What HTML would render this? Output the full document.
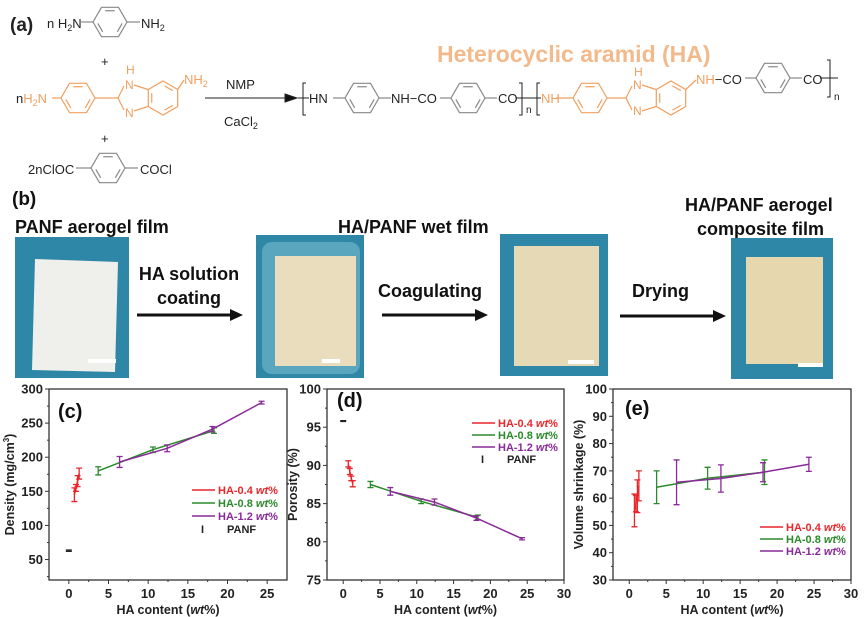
<!DOCTYPE html>
<html><head><meta charset="utf-8"><style>
body{margin:0;background:#fff;}
svg{display:block;font-family:"Liberation Sans",Arial,sans-serif;}
.b{font-weight:bold}
</style></head><body>
<svg id="fig" width="867" height="617" viewBox="0 0 867 617" xmlns="http://www.w3.org/2000/svg">
<!-- (a) chemistry scheme -->
<g font-size="13" fill="#222">
  <text x="10" y="31" font-size="19" class="b">(a)</text>
  <text x="47" y="28">n H<tspan font-size="9" dy="3">2</tspan><tspan dy="-3">N</tspan></text>
  <text x="141" y="28">NH<tspan font-size="9" dy="3">2</tspan></text>
  <text x="101" y="66">+</text>
  <text x="16" y="103">n<tspan fill="#f0a060">H<tspan font-size="9" dy="3">2</tspan><tspan dy="-3">N</tspan></tspan></text>
  <g fill="#f0a060">
    <text x="126" y="74" font-size="12">H</text>
    <text x="125" y="89" font-size="12">N</text>
    <text x="125" y="117" font-size="12">N</text>
    <text x="184" y="84">NH<tspan font-size="9" dy="3">2</tspan></text>
  </g>
  <text x="226" y="89">NMP</text>
  <text x="224" y="126">CaCl<tspan font-size="9" dy="3">2</tspan></text>
  <text x="101" y="143">+</text>
  <text x="28" y="174">2nClOC</text>
  <text x="140" y="174">COCl</text>
  <text x="309" y="103">HN</text>
  <text x="391" y="103">NH−CO</text>
  <text x="498" y="103">CO</text>
  <text x="526" y="113" font-size="10">n</text>
  <text x="541" y="103" fill="#f0a060">NH</text>
  <g fill="#f0a060"><text x="634" y="76" font-size="12">H</text><text x="633" y="89" font-size="12">N</text><text x="633" y="115" font-size="12">N</text></g>
  <text x="696" y="84"><tspan fill="#f0a060">NH</tspan>−CO</text>
  <text x="803" y="84">CO</text>
  <text x="834" y="100" font-size="10">n</text>
  <text x="437" y="62" font-size="23" class="b" fill="#f3b98a">Heterocyclic aramid (HA)</text>
  <g stroke="#222" fill="none" stroke-width="1">
    <line x1="205" y1="98" x2="285" y2="98"/>
    <polygon points="285,94 297,98 285,102" fill="#111"/>
    <path d="M306,83 h-3 v32 h3"/><line x1="298" y1="98" x2="309" y2="98"/>
    <path d="M519,83 h3 v32 h-3"/><path d="M540,83 h-3 v32 h3"/><line x1="516" y1="98" x2="541" y2="98"/>
    <path d="M827,60 h3 v37 h-3"/><line x1="820" y1="78" x2="838" y2="78"/>
  </g>
  <g id="rings" stroke="#888" fill="none" stroke-width="1.2"></g>
  <g id="rings-o" stroke="#f0a060" fill="none" stroke-width="1.2"></g>
</g>
<!-- (b) process photos -->
<g font-weight="bold" fill="#111">
  <text x="12" y="205" font-size="19">(b)</text>
  <text x="15" y="233" font-size="18">PANF aerogel film</text>
  <text x="338" y="233" font-size="18">HA/PANF wet film</text>
  <text x="685" y="211" font-size="18">HA/PANF aerogel</text>
  <text x="697" y="235" font-size="18">composite film</text>
  <text x="189" y="280" font-size="18" text-anchor="middle">HA solution</text>
  <text x="189" y="304" font-size="18" text-anchor="middle">coating</text>
  <text x="378" y="297" font-size="18">Coagulating</text>
  <text x="632" y="297" font-size="18">Drying</text>
  <g stroke="#111" stroke-width="3"><line x1="137" y1="315" x2="232" y2="315"/><line x1="382" y1="315" x2="477" y2="315"/><line x1="620" y1="316" x2="715" y2="316"/></g>
  <polygon points="230,309 243,315 230,321"/><polygon points="475,309 488,315 475,321"/><polygon points="713,310 726,316 713,322"/>
  <rect x="15" y="237" width="114" height="141" fill="#2f87a8"/>
  <polygon points="35,259 118,262 115,372 32,370" fill="#efefeb"/>
  <rect x="88" y="359" width="28" height="4" fill="#fff"/>
  <rect x="256" y="235" width="108" height="143" fill="#2f87a8"/>
  <rect x="262" y="242" width="98" height="132" rx="10" fill="#5aa6bf"/>
  <rect x="275" y="256" width="81" height="110" fill="#e9ddbd"/>
  <rect x="322" y="359" width="18" height="4" fill="#fff"/>
  <rect x="500" y="234" width="108" height="142" fill="#2f87a8"/>
  <rect x="514" y="246" width="85" height="120" fill="#e6dab6"/>
  <rect x="568" y="360" width="26" height="4" fill="#fff"/>
  <rect x="731" y="238" width="102" height="141" fill="#2f87a8"/>
  <rect x="746" y="257" width="77" height="107" fill="#e6d7ae"/>
  <rect x="798" y="363" width="25" height="4" fill="#fff"/>
</g>
<g id="charts"></g>
</svg>
<script>
var SV='http://www.w3.org/2000/svg';
function hex(g,cx,cy,r,rot){rot=rot||0;var p=[];for(var i=0;i<6;i++){var a=Math.PI/3*i+rot;p.push((cx+r*Math.cos(a)).toFixed(1)+','+(cy+r*Math.sin(a)).toFixed(1));}
 var e=document.createElementNS(SV,'polygon');e.setAttribute('points',p.join(' '));g.appendChild(e);
 var ri=r*0.72;[0,2,4].forEach(function(k){var a1=Math.PI/3*k+rot+0.12,a2=Math.PI/3*(k+1)+rot-0.12;ln(g,cx+ri*Math.cos(a1),cy+ri*Math.sin(a1),cx+ri*Math.cos(a2),cy+ri*Math.sin(a2));});}
function ln(g,a,b,c,d){var e=document.createElementNS(SV,'line');e.setAttribute('x1',a);e.setAttribute('y1',b);e.setAttribute('x2',c);e.setAttribute('y2',d);g.appendChild(e);}
var rg=document.getElementById('rings'),ro=document.getElementById('rings-o');
hex(rg,110,22,17);ln(rg,80,22,93,22);ln(rg,127,22,140,22);
hex(rg,108,168,17);ln(rg,76,168,91,168);ln(rg,125,168,138,168);
hex(rg,362,98,17);ln(rg,333,98,345,98);ln(rg,379,98,391,98);
hex(rg,468,98,17);ln(rg,440,98,451,98);ln(rg,485,98,497,98);
hex(rg,773,78,17);ln(rg,745,78,756,78);ln(rg,790,78,802,78);
var PT=-Math.PI/2;
hex(ro,78,98,17);ln(ro,52,98,61,98);ln(ro,95,98,118,98);
ln(ro,118,98,124,86);ln(ro,118,98,124,110);ln(ro,134,85,148,89.5);ln(ro,134,111,148,106.5);
hex(ro,163,98,17,PT);ln(ro,177.7,89.5,184,80);
hex(ro,590,98,17);ln(ro,556,98,573,98);ln(ro,607,98,626,98);
ln(ro,626,98,632,86);ln(ro,626,98,632,110);ln(ro,642,85,656,89.5);ln(ro,642,111,656,106.5);
hex(ro,671,98,17,PT);ln(ro,685.7,89.5,696,80);

// ===== chart data =====
var xTicks=[0,5,10,15,20,25,30];
var cTicksY=[50,100,150,200,250,300];
var dTicksY=[75,80,85,90,95,100];
var eTicksY=[30,40,50,60,70,80,90,100];
var seriesNames=['HA-0.4','HA-0.8','HA-1.2'];
var redX=[0.7,0.9,1.1,1.3];
var greenX=[3.7,10.6,18.3];
var purpleX=[6.4,12.4,18.1,24.3];
var panfX=[0];
var cRed=[145,155,165,176], cRedErr=[10,5,8,8];
var cGreen=[180,211,239], cGreenErr=[6,4,4];
var cPurple=[193,213,241,280], cPurpleErr=[8,5,4,2];
var cPanf=[63], cPanfErr=[1];
var dRed=[90.2,89.2,88.3,87.6], dRedErr=[0.4,0.4,0.3,0.4];
var dGreen=[87.5,85.3,83.2], dGreenErr=[0.4,0.3,0.3];
var dPurple=[86.6,85.2,83.1,80.4], dPurpleErr=[0.5,0.4,0.3,0.15];
var dPanf=[95.8], dPanfErr=[0.05];
var eRed=[55.5,58,60.7,64.5], eRedErr=[6,3,6,5.5];
var eGreen=[64,67.3,69.5], eGreenErr=[6,4,4.5];
var ePurple=[65.8,67.2,69.5,72.4], ePurpleErr=[8.2,5,3.5,2.6];

var NS='http://www.w3.org/2000/svg';
var root=document.getElementById('charts');
var COL=['#e8262b','#2b8a2b','#8a2a9a'];
function mk(tag,attrs,parent){var e=document.createElementNS(NS,tag);for(var k in attrs)e.setAttribute(k,attrs[k]);parent.appendChild(e);return e;}

function chart(cfg){
  var g=mk('g',{},root);
  
  
  var X=function(v){return cfg.x0+(v-cfg.xmin)/(cfg.xmax-cfg.xmin)*(cfg.x1-cfg.x0);};
  var Y=function(v){return cfg.y1-(v-cfg.ymin)/(cfg.ymax-cfg.ymin)*(cfg.y1-cfg.y0);};
  var frame=mk('rect',{x:cfg.x0,y:cfg.y0,width:cfg.x1-cfg.x0,height:cfg.y1-cfg.y0,fill:'none',stroke:'#333','stroke-width':1.3},g);
  
  
  xTicks.forEach(function(t,i){
    if(t>cfg.xmax+0.01)return;
    var x=X(t);mk('line',{x1:x,y1:cfg.y1,x2:x,y2:cfg.y1+4,stroke:'#333'},g);
    if(t+2.5<cfg.xmax)mk('line',{x1:X(t+2.5),y1:cfg.y1,x2:X(t+2.5),y2:cfg.y1+2,stroke:'#333'},g);
    if(t===0&&X(t-2.5)>cfg.x0)mk('line',{x1:X(t-2.5),y1:cfg.y1,x2:X(t-2.5),y2:cfg.y1+2,stroke:'#333'},g);
    var tx=mk('text',{x:x,y:cfg.y1+18,'text-anchor':'middle','font-size':13,'font-weight':'bold',fill:'#222'},g);
    tx.textContent=t;
    
    
  });
  cfg.yt.forEach(function(t,i){
    var y=Y(t);mk('line',{x1:cfg.x0,y1:y,x2:cfg.x0-4,y2:y,stroke:'#333'},g);
    var step=cfg.yt[1]-cfg.yt[0];
    if(t-step/2>cfg.ymin-0.01)mk('line',{x1:cfg.x0,y1:Y(t-step/2),x2:cfg.x0-2,y2:Y(t-step/2),stroke:'#333'},g);
    var tx=mk('text',{x:cfg.x0-6,y:y+4.5,'text-anchor':'end','font-size':13,'font-weight':'bold',fill:'#222'},g);
    tx.textContent=t;
    
    
  });
  var xt=mk('text',{x:(cfg.x0+cfg.x1)/2,y:cfg.y1+34,'text-anchor':'middle','font-size':12.5,'font-weight':'bold',fill:'#222'},g);
  xt.innerHTML='HA content (<tspan font-style="italic">wt</tspan>%)';
  
  
  var yt=mk('text',{transform:'translate('+cfg.ytx+','+(cfg.y0+cfg.y1)/2+') rotate(-90)','text-anchor':'middle','font-size':12.5,'font-weight':'bold',fill:'#222'},g);
  yt.innerHTML=cfg.ytitle;
  
  
  var pl=mk('text',{x:cfg.plx,y:cfg.ply,'font-size':20,'font-weight':'bold',fill:'#111'},g);
  pl.textContent=cfg.panel;
  
  
  cfg.series.forEach(function(s,si){
    var sg=mk('g',{},g);
    
    
    var pts=s.x.map(function(v,i){return X(v).toFixed(1)+','+Y(s.y[i]).toFixed(1);}).join(' ');
    if(s.x.length>1)mk('polyline',{points:pts,fill:'none',stroke:s.c,'stroke-width':1.5},sg);
    s.x.forEach(function(v,i){
      var x=X(v),a=Y(s.y[i]+s.e[i]),b=Y(s.y[i]-s.e[i]);
      var eb=mk('path',{d:'M'+x+','+a+'V'+b+'M'+(x-3)+','+a+'h6M'+(x-3)+','+b+'h6',stroke:s.c,'stroke-width':1.3,fill:'none'},sg);
      
      
    });
  });
  var L=cfg.leg;
  seriesNames.forEach(function(n,i){
    var y=L.y+i*L.dy;
    var le=mk('g',{},g);
    
    
    mk('line',{x1:L.x,y1:y,x2:L.x+23,y2:y,stroke:COL[i],'stroke-width':1.5},le);
    var t=mk('text',{x:L.x+26,y:y+4,'font-size':11,'font-weight':'bold',fill:COL[i]},le);
    t.innerHTML=n+' <tspan font-style="italic">wt</tspan>%';
  });
  if(cfg.panf){
    var y=L.y+3*L.dy;
    var le=mk('g',{},g);
    
    
    var t1=mk('text',{x:L.x+9,y:y+4,'font-size':11,'font-weight':'bold',fill:'#222'},le);t1.textContent='I';
    var t2=mk('text',{x:L.x+35,y:y+4,'font-size':11,'font-weight':'bold',fill:'#222'},le);t2.textContent='PANF';
  }
}
chart({name:'density-chart',panel:'(c)',plx:58,ply:418,x0:49,x1:287,y0:389,y1:580,xmin:-2.5,xmax:27.5,ymin:20,ymax:300,yt:cTicksY,ytx:14,
  ytitle:'Density (mg/cm<tspan font-size="8" dy="-5">3</tspan><tspan dy="5">)</tspan>',leg:{x:192,y:490,dy:13},panf:true,
  series:[{key:'ha-0.4',x:redX,y:cRed,e:cRedErr,c:COL[0]},{key:'ha-0.8',x:greenX,y:cGreen,e:cGreenErr,c:COL[1]},{key:'ha-1.2',x:purpleX,y:cPurple,e:cPurpleErr,c:COL[2]},{key:'panf',x:panfX,y:cPanf,e:cPanfErr,c:'#222'}]});
chart({name:'porosity-chart',panel:'(d)',plx:337,ply:407,x0:327,x1:564,y0:389,y1:580,xmin:-2.2,xmax:30,ymin:75,ymax:100,yt:dTicksY,ytx:297,
  ytitle:'Porosity (%)',leg:{x:472,y:423,dy:12},panf:true,
  series:[{key:'ha-0.4',x:redX,y:dRed,e:dRedErr,c:COL[0]},{key:'ha-0.8',x:greenX,y:dGreen,e:dGreenErr,c:COL[1]},{key:'ha-1.2',x:purpleX,y:dPurple,e:dPurpleErr,c:COL[2]},{key:'panf',x:panfX,y:dPanf,e:dPanfErr,c:'#222'}]});
chart({name:'shrinkage-chart',panel:'(e)',plx:625,ply:415,x0:613,x1:851,y0:389,y1:580,xmin:-2.2,xmax:30,ymin:30,ymax:100,yt:eTicksY,ytx:583,
  ytitle:'Volume shrinkage (%)',leg:{x:760,y:527,dy:12},panf:false,
  series:[{key:'ha-0.4',x:redX,y:eRed,e:eRedErr,c:COL[0]},{key:'ha-0.8',x:greenX,y:eGreen,e:eGreenErr,c:COL[1]},{key:'ha-1.2',x:purpleX,y:ePurple,e:ePurpleErr,c:COL[2]}]});
</script>
</body></html>
